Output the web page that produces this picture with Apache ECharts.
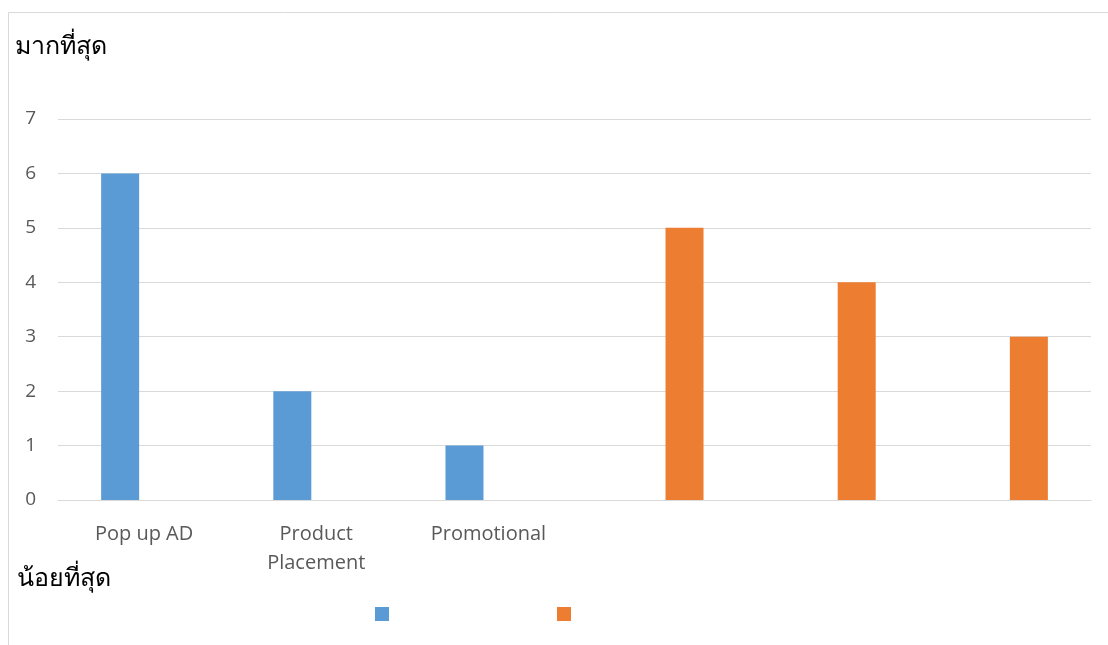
<!DOCTYPE html>
<html><head><meta charset="utf-8">
<script src="https://cdn.jsdelivr.net/npm/echarts@6/dist/echarts.min.js"></script>
<style>html,body{margin:0;padding:0;background:#fff}#c{width:1108px;height:645px}</style>
</head><body><div id="c"></div>
<script>
const categories = ['Pop up AD', 'Product\nPlacement', 'Promotional', '', '', ''];
const seriesBlue = [6, 2, 1, '-', '-', '-'];
const seriesOrange = ['-', '-', '-', 5, 4, 3];
const topLabel = 'มากที่สุด';
const bottomLabel = 'น้อยที่สุด';

const chart = echarts.init(document.getElementById('c'), null, {renderer: 'canvas'});
chart.setOption({
  animation: false,
  backgroundColor: '#fff',
  graphic: [
    {type: 'line', shape: {x1: 8.5, y1: 12.5, x2: 1108, y2: 12.5}, style: {stroke: '#d9d9d9', lineWidth: 1}},
    {type: 'line', shape: {x1: 8.5, y1: 12.5, x2: 8.5, y2: 645}, style: {stroke: '#d9d9d9', lineWidth: 1}},
    {type: 'text', left: 15, top: 35, style: {text: topLabel, fontSize: 25, fill: '#000', fontFamily: 'serif'}},
    {type: 'text', left: 17, top: 567, style: {text: bottomLabel, fontSize: 25, fill: '#000', fontFamily: 'serif'}}
  ],
  grid: {left: 58, right: 17, top: 119, bottom: 145, containLabel: false},
  legend: {
    data: ['S1', 'S2'], left: 370, top: 602, itemWidth: 14, itemHeight: 14, itemGap: 168,
    formatter: () => '', icon: 'rect', textStyle: {fontSize: 1}
  },
  xAxis: {
    type: 'category', data: categories,
    axisLine: {lineStyle: {color: '#d9d9d9', width: 1}},
    axisTick: {show: false},
    axisLabel: {color: '#595959', fontSize: 20, fontFamily: 'Open Sans, sans-serif', margin: 20, lineHeight: 29, interval: 0}
  },
  yAxis: {
    type: 'value', min: 0, max: 7, interval: 1,
    axisLine: {show: false}, axisTick: {show: false},
    splitLine: {lineStyle: {color: '#d9d9d9', width: 1}},
    axisLabel: {color: '#595959', fontSize: 19, fontFamily: 'Open Sans, sans-serif', margin: 22}
  },
  series: [
    {name: 'S1', type: 'bar', data: seriesBlue, itemStyle: {color: '#5b9bd5'}, barWidth: 38, barGap: '26%', barCategoryGap: '50%'},
    {name: 'S2', type: 'bar', data: seriesOrange, itemStyle: {color: '#ed7d31'}, barWidth: 38, barGap: '26%', barCategoryGap: '50%'}
  ]
});
</script></body></html>
